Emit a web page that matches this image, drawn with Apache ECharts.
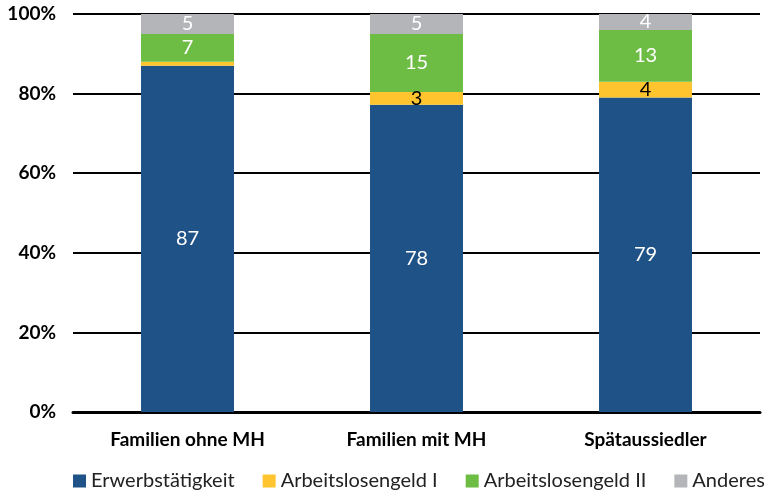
<!DOCTYPE html>
<html>
<head>
<meta charset="utf-8">
<script src="https://cdn.jsdelivr.net/npm/echarts@6/dist/echarts.min.js"></script>
<style>
  html, body { margin: 0; padding: 0; background: #fff; }
  #chart { width: 768px; height: 495px; }
</style>
</head>
<body>
<div id="chart"></div>
<script>
const categories = ['Familien ohne MH', 'Familien mit MH', 'Spätaussiedler']
const seriesNames = ['Erwerbstätigkeit', 'Arbeitslosengeld I', 'Arbeitslosengeld II', 'Anderes']

// Anteile (geschätzt aus der Grafik)
const erwerb = [87, 77.2, 79]
const alg1 = [1, 3.2, 4]
const alg2 = [7, 14.6, 13]
const anderes = [5, 5, 4]

// gedruckte Beschriftungen
const erwerbLabels = ['87', '78', '79']
const alg1Labels = ['', '3', '4']
const alg2Labels = ['7', '15', '13']
const anderesLabels = ['5', '5', '4']

const yTicks = [0, 20, 40, 60, 80, 100]

const colors = ['#1f5286', '#ffc42e', '#6dbd45', '#b3b5b8']
const textColors = ['#fff', '#000', '#fff', '#fff']
const values = [erwerb, alg1, alg2, anderes]
const labels = [erwerbLabels, alg1Labels, alg2Labels, anderesLabels]

const font = 'Lato, "Open Sans", sans-serif'

const chart = echarts.init(document.getElementById('chart'))

const option = {
  animation: false,
  grid: { left: 73, right: 8, top: 14, bottom: 83 },
  legend: {
    top: 471,
    left: 73,
    padding: 0,
    itemWidth: 13,
    itemHeight: 13,
    itemGap: 28,
    icon: 'rect',
    textStyle: { fontFamily: font, fontSize: 20, color: '#222' },
    data: seriesNames
  },
  xAxis: {
    type: 'category',
    data: categories,
    axisTick: { show: false },
    axisLine: { lineStyle: { color: '#000', width: 3 } },
    axisLabel: { fontFamily: font, fontSize: 19, fontWeight: 'bold', color: '#000', margin: 18 }
  },
  yAxis: {
    type: 'value',
    min: 0,
    max: 100,
    interval: 20,
    axisLine: { show: false },
    axisTick: { show: false },
    splitLine: { lineStyle: { color: '#000', width: 2 } },
    axisLabel: {
      fontFamily: font, fontSize: 19, fontWeight: 'bold', color: '#000', margin: 17,
      formatter: v => yTicks.includes(v) ? v + '%' : ''
    }
  },
  series: seriesNames.map((name, i) => ({
    name,
    type: 'bar',
    stack: 'total',
    barWidth: '40.6%',
    itemStyle: { color: colors[i] },
    label: {
      show: true,
      position: 'inside',
      fontFamily: font,
      fontSize: 20,
      color: textColors[i],
      formatter: p => labels[i][p.dataIndex]
    },
    data: values[i]
  }))
}

chart.setOption(option)
</script>
</body>
</html>
